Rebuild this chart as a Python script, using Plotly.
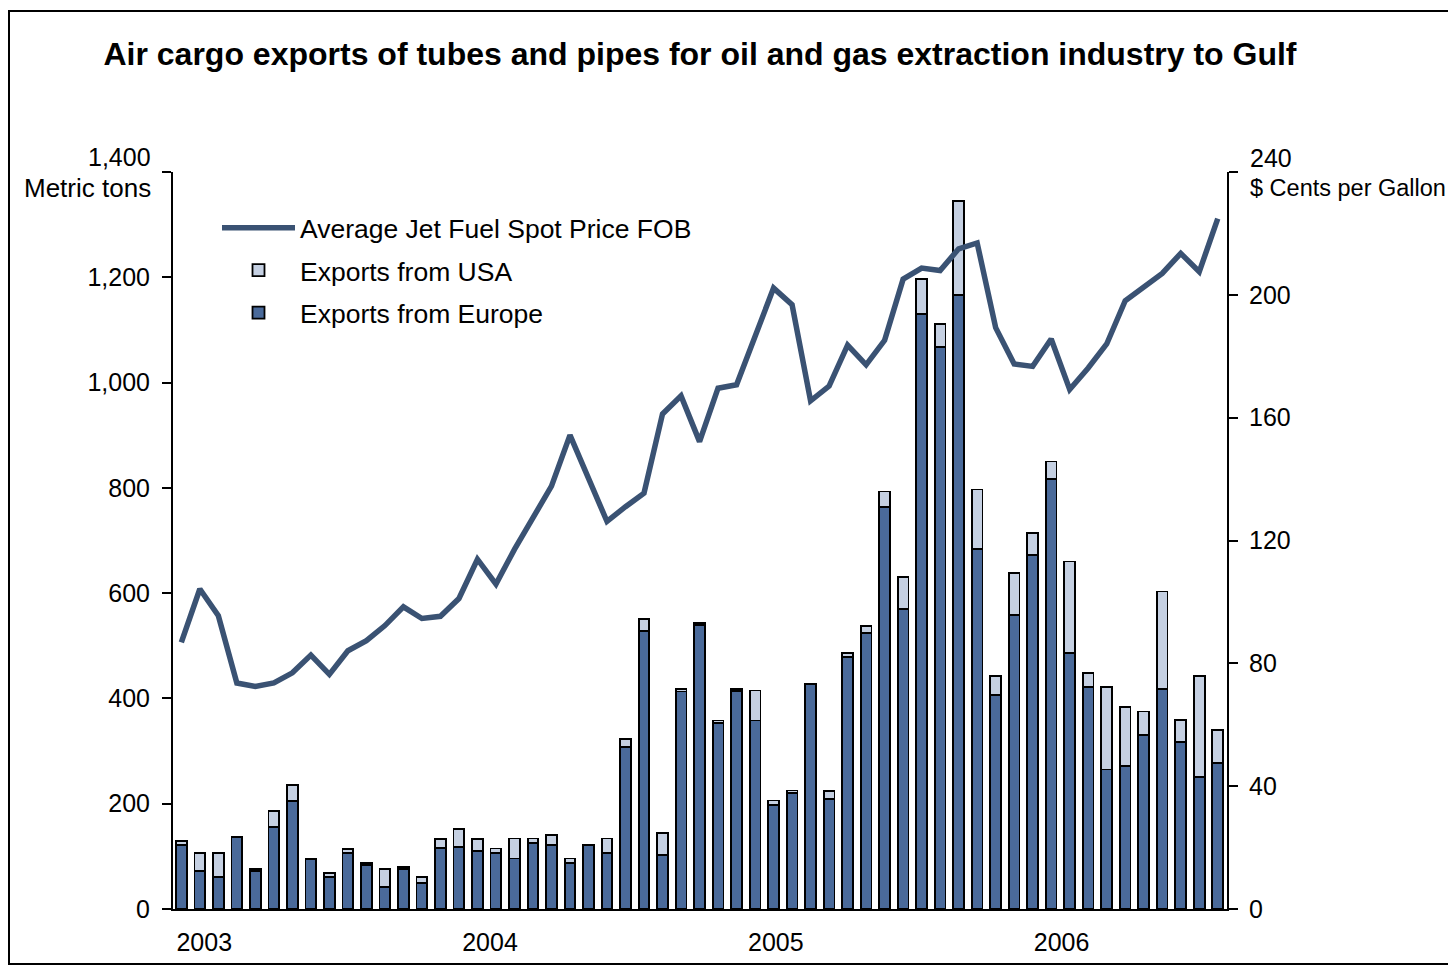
import plotly.graph_objects as go

# ---- data ----
periods = list(range(57))  # consecutive observation periods, Jan 2003 onward

exports_europe = [121, 72, 61, 137, 72, 156, 205, 95, 61, 106, 84, 42, 76, 49, 116, 118, 110, 107,
                  96, 126, 122, 88, 122, 107, 308, 528, 103, 413, 539, 354, 414, 358, 198, 221,
                  428, 209, 479, 524, 764, 570, 1131, 1067, 1166, 684, 407, 559, 672, 817, 486,
                  421, 265, 272, 330, 418, 318, 251, 277]

exports_usa = [8, 34, 45, 0, 4, 30, 31, 0, 7, 8, 3, 34, 4, 12, 17, 34, 23, 8,
               38, 8, 19, 8, 0, 27, 15, 23, 42, 5, 4, 4, 4, 57, 8, 4,
               0, 15, 7, 14, 29, 61, 65, 45, 179, 113, 36, 79, 42, 33, 174,
               27, 156, 111, 45, 185, 41, 192, 63]

jet_fuel_price = [86.8, 104.2, 95.5, 73.6, 72.5, 73.6, 76.9, 82.7, 76.4, 84.1, 87.4, 92.3,
                  98.4, 94.6, 95.3, 101.1, 113.9, 105.8, 117.1, 127.5, 137.7, 154.3, 140.4,
                  126.2, 131.0, 135.4, 161.2, 167.1, 152.2, 169.6, 170.7, 186.4, 202.2, 196.8,
                  165.5, 170.3, 183.6, 177.2, 185.2, 205.1, 208.7, 207.9, 215.0, 216.9, 189.3,
                  177.5, 176.7, 185.6, 169.2, 176.2, 184.0, 198.1, 202.6, 207.0, 213.5, 207.5,
                  224.8]

year_labels = ["2003", "2004", "2005", "2006"]
left_ticks = [0, 200, 400, 600, 800, 1000, 1200, 1400]
right_ticks = [0, 40, 80, 120, 160, 200, 240]

# ---- styling ----
FONT = "Liberation Sans, Arial, sans-serif"
C_EUROPE = "#4A6A9A"
C_USA = "#C5D0E2"
C_LINE = "#3A5273"

W, H = 1448, 958          # page has an 8px body margin
PL, PT, PW, PH = 165, 164, 1054, 737   # plot area in figure pixels


def px(xf):
    """figure-pixel x -> paper coordinate"""
    return (xf - PL) / PW


def py(yf):
    """figure-pixel y -> paper coordinate"""
    return (PT + PH - yf) / PH


fig = go.Figure()

fig.add_trace(go.Bar(
    x=periods, y=exports_europe, name="Exports from Europe",
    marker=dict(color=C_EUROPE, line=dict(color="black", width=1.8)),
    width=0.58, legendrank=3, legendgroup="c", yaxis="y",
))
fig.add_trace(go.Bar(
    x=periods, y=exports_usa, name="Exports from USA",
    marker=dict(color=C_USA, line=dict(color="black", width=1.8)),
    width=0.58, legendrank=2, legendgroup="b", yaxis="y",
))
fig.add_trace(go.Scatter(
    x=periods, y=jet_fuel_price, name="Average Jet Fuel Spot Price FOB",
    mode="lines", line=dict(color=C_LINE, width=5.5), legendrank=1, legendgroup="a",
    yaxis="y2",
))

# year tick positions on the period axis
year_pos = [1.24 + 15.44 * i for i in range(len(year_labels))]

fig.update_layout(
    width=W, height=H,
    margin=dict(l=PL, r=W - PL - PW, t=PT, b=H - PT - PH),
    paper_bgcolor="white", plot_bgcolor="white",
    barmode="stack",
    font=dict(family=FONT, size=25, color="black"),
    title=dict(
        text="Air cargo exports of tubes and pipes for oil and gas extraction industry to Gulf",
        x=0.5, xref="paper", xanchor="center",
        y=1 - 46 / H, yref="container", yanchor="middle",
        font=dict(family=FONT, size=32, color="black", weight="bold"),
        automargin=False,
    ),
    xaxis=dict(
        range=[-0.45, 56.5], tickvals=year_pos, ticktext=year_labels,
        showline=True, linecolor="black", linewidth=2, ticks="",
        showgrid=False, zeroline=False, tickfont=dict(size=25),
        ticklabelstandoff=10, automargin=False,
    ),
    yaxis=dict(
        range=[0, 1400], tickvals=left_ticks,
        ticktext=[f"{v:,}" for v in left_ticks[:-1]] + [""],
        showline=True, linecolor="black", linewidth=2,
        ticks="outside", ticklen=9, tickwidth=2, tickcolor="black",
        showgrid=False, zeroline=False, ticklabelstandoff=7,
        tickfont=dict(size=25), automargin=False,
    ),
    yaxis2=dict(
        range=[0, 240], overlaying="y", side="right", tickvals=right_ticks,
        ticktext=[str(v) for v in right_ticks[:-1]] + [""],
        showline=True, linecolor="black", linewidth=2,
        ticks="outside", ticklen=9, tickwidth=2, tickcolor="black",
        showgrid=False, zeroline=False, ticklabelstandoff=6,
        tickfont=dict(size=25), automargin=False,
    ),
    legend=dict(
        x=px(209), y=py(196), xanchor="left", yanchor="top",
        bgcolor="rgba(0,0,0,0)", font=dict(size=26.5),
        traceorder="grouped", itemwidth=73, tracegroupgap=5,
    ),
    showlegend=True,
)

# top-of-axis labels with unit captions
fig.add_annotation(text="1,400", xref="paper", yref="paper", x=px(145), y=py(149),
                   xanchor="right", yanchor="middle", showarrow=False, font=dict(size=25))
fig.add_annotation(text="Metric tons", xref="paper", yref="paper", x=px(145), y=py(180),
                   xanchor="right", yanchor="middle", showarrow=False, font=dict(size=26))
fig.add_annotation(text="240", xref="paper", yref="paper", x=px(1240), y=py(150),
                   xanchor="left", yanchor="middle", showarrow=False, font=dict(size=25))
fig.add_annotation(text="$ Cents per Gallon", xref="paper", yref="paper", x=px(1240), y=py(180),
                   xanchor="left", yanchor="middle", showarrow=False, font=dict(size=23.5))

# outer frame
fig.add_shape(type="rect", xref="paper", yref="paper",
              x0=px(1), x1=px(W + 20), y0=py(956), y1=py(3),
              line=dict(color="black", width=2), layer="below")

fig.write_html("out.html")
